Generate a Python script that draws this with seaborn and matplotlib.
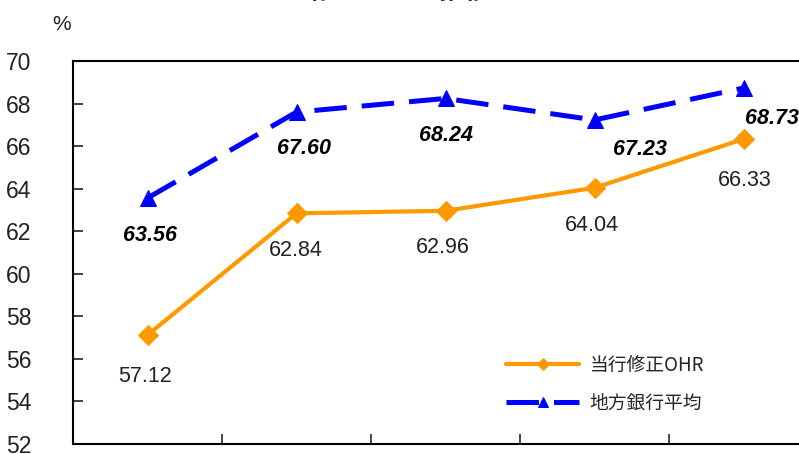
import matplotlib
matplotlib.use("Agg")
import matplotlib.pyplot as plt
import seaborn as sns
import pandas as pd

# ---- data ----
periods = ["P1", "P2", "P3", "P4", "P5"]
own_ohr = [57.12, 62.84, 62.96, 64.04, 66.33]
regional_avg = [63.56, 67.60, 68.24, 67.23, 68.73]
series_names = ["当行修正OHR", "地方銀行平均"]
yticks = [52, 54, 56, 58, 60, 62, 64, 66, 68, 70]
title_text = "修正OHRの推移"

sns.set_theme(style="white")
plt.rcParams['font.family'] = ['Liberation Sans', 'Noto Sans CJK JP', 'DejaVu Sans']

W, H = 799, 454
fig = plt.figure(figsize=(W / 100, H / 100), dpi=100)
ax = fig.add_axes([73 / W, 10 / H, 745 / W, 383 / H])

xs = list(range(len(periods)))
df_own = pd.DataFrame({"x": xs, "y": own_ohr})
df_reg = pd.DataFrame({"x": xs, "y": regional_avg})

orange = "#FF9900"
blue = "#0000FF"

sns.lineplot(data=df_own, x="x", y="y", ax=ax, color=orange, linewidth=3.0,
             marker="D", markersize=10, markeredgecolor=orange,
             label=series_names[0])
sns.lineplot(data=df_reg, x="x", y="y", ax=ax, color=blue, linewidth=3.6,
             marker="^", markersize=12, markeredgecolor=blue,
             label=series_names[1])
ax.lines[1].set_dashes([6.5, 3])
ax.lines[1].set_solid_capstyle("butt")

ax.set_xlim(-0.5, 4.5)
ax.set_ylim(52, 70)
ax.set_yticks(yticks)
ax.set_xticks([0.5, 1.5, 2.5, 3.5])
ax.set_xticklabels([])
ax.set_xlabel("")
ax.set_ylabel("")
ax.tick_params(axis="y", direction="in", length=7, width=1.2, pad=30,
               labelsize=16.5, colors="#222222", left=True)
ax.tick_params(axis="x", direction="in", length=7, width=1.2, bottom=True)
for s in ["left", "bottom", "top"]:
    ax.spines[s].set_visible(True)
    ax.spines[s].set_color("black")
    ax.spines[s].set_linewidth(1.5)
ax.spines["right"].set_visible(False)

# value labels
own_offsets = [(-2, -41), (-1, -37), (-3, -37), (-3, -38), (1, -41)]
reg_offsets = [(3, -37), (7, -36), (1, -37), (46, -30), (28, -30)]
for i, v in enumerate(own_ohr):
    dx, dy = own_offsets[i]
    ax.annotate(f"{v:.2f}", (xs[i], v), xytext=(dx, dy), textcoords="offset pixels",
                ha="center", va="center", fontsize=15.5, color="#222222")
for i, v in enumerate(regional_avg):
    dx, dy = reg_offsets[i]
    ax.annotate(f"{v:.2f}", (xs[i], v), xytext=(dx, dy), textcoords="offset pixels",
                ha="center", va="center", fontsize=15.5, color="black",
                fontweight="bold", fontstyle="italic", annotation_clip=False)

leg = ax.legend(loc="upper left", bbox_to_anchor=(506 / W, 1 - 355 / H),
                bbox_transform=fig.transFigure, frameon=False, borderpad=0,
                borderaxespad=0, handlelength=3.9, handletextpad=0.55,
                labelspacing=0.9, markerscale=0.6,
                prop={"family": ["Noto Sans CJK JP"], "size": 13.5})
leg.get_texts()[1].set_fontstyle("italic")

fig.text(62 / W, 1 - 24 / H, "%", ha="center", va="center", fontsize=15, color="#222222")
fig.text(400 / W, 1 + 1 / H, title_text, ha="center", va="baseline", fontsize=18,
         fontweight="bold", family=["Noto Sans CJK JP"])

fig.savefig("out.png", dpi=100)
